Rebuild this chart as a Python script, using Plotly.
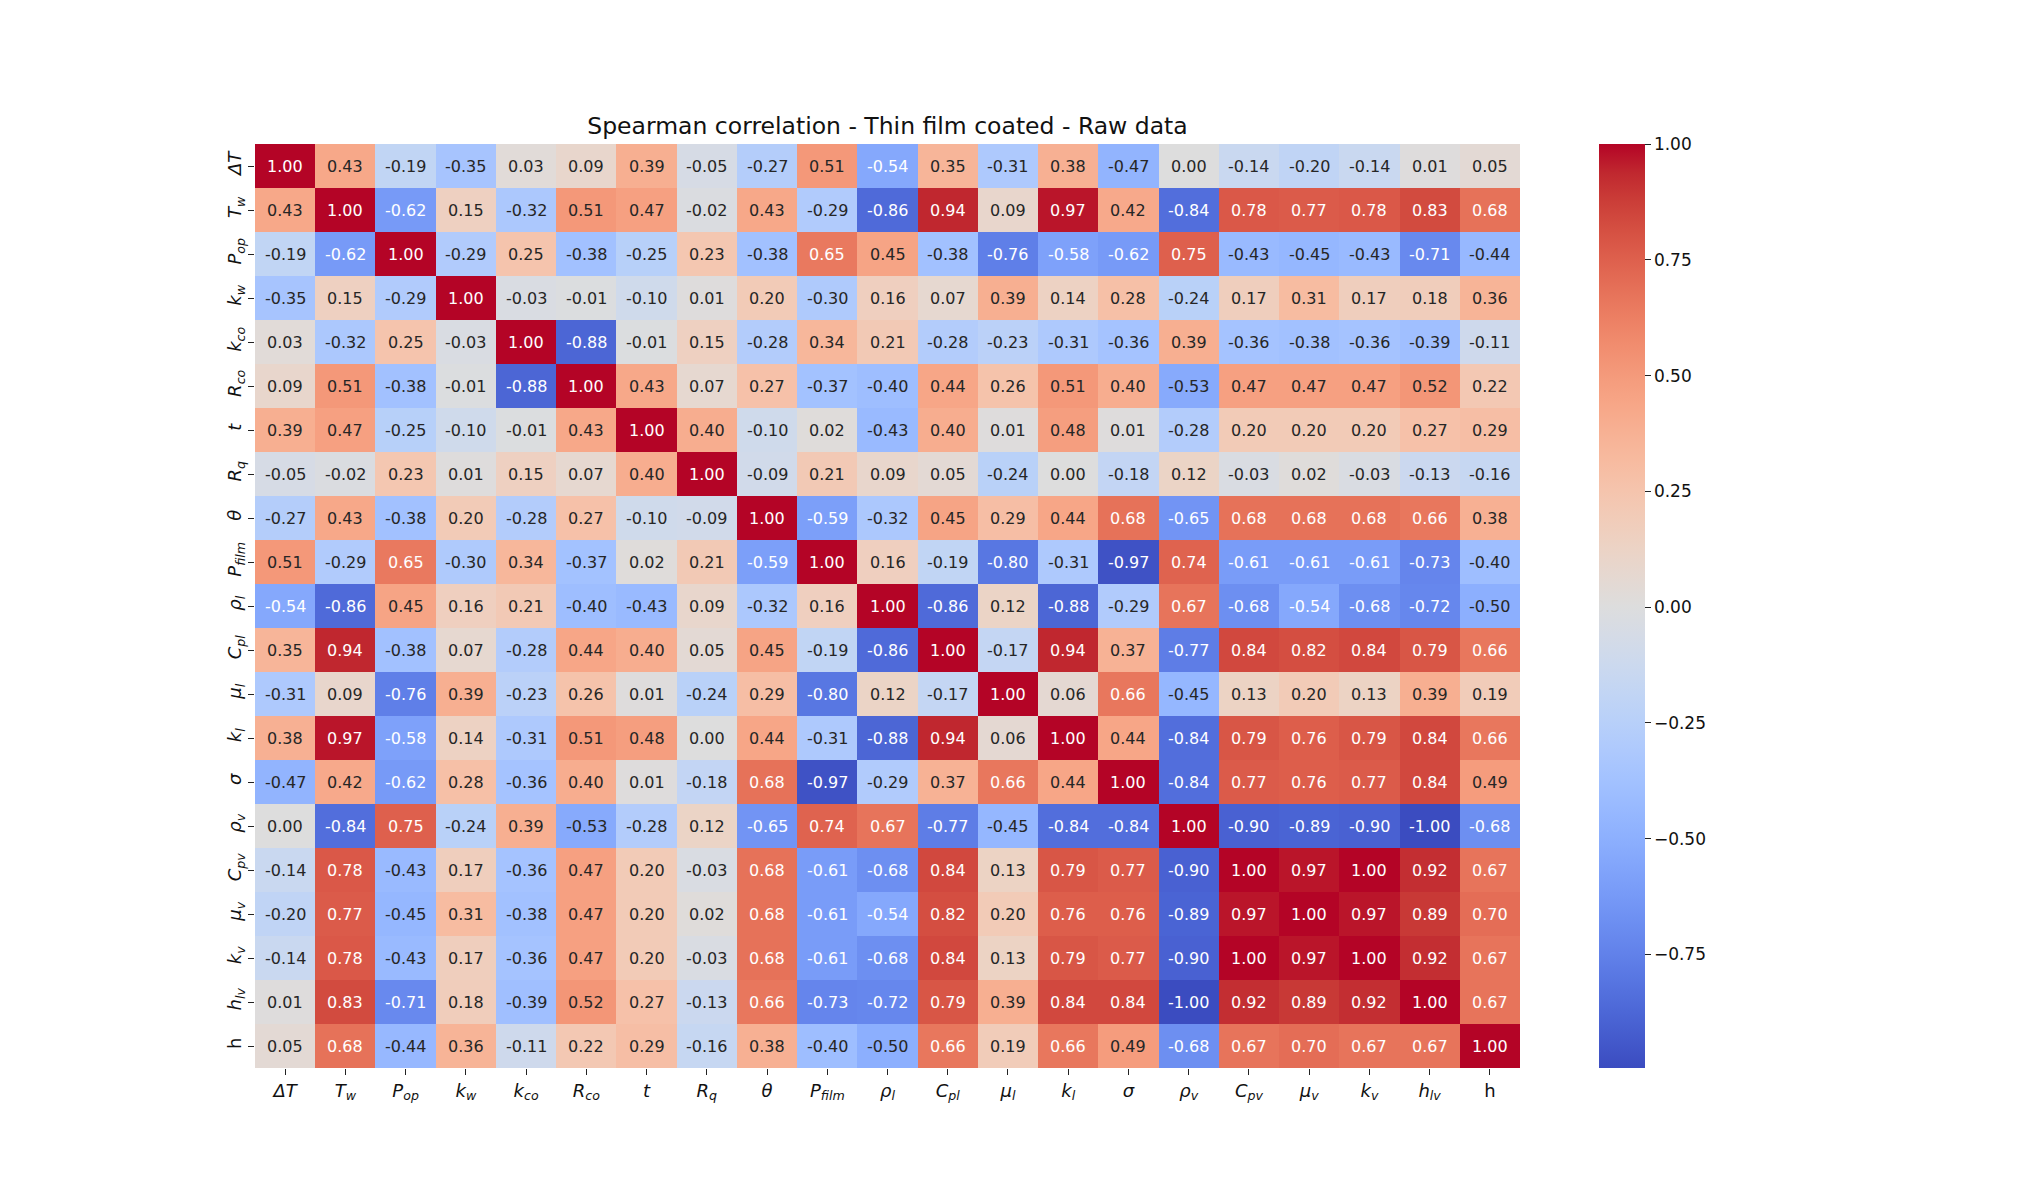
import plotly.graph_objects as go

labels = ["<i>ΔT</i>", "<i>T<sub>w</sub></i>", "<i>P<sub>op</sub></i>", "<i>k<sub>w</sub></i>",
          "<i>k<sub>co</sub></i>", "<i>R<sub>co</sub></i>", "<i>t</i>", "<i>R<sub>q</sub></i>",
          "<i>θ</i>", "<i>P<sub>film</sub></i>", "<i>ρ<sub>l</sub></i>", "<i>C<sub>pl</sub></i>",
          "<i>μ<sub>l</sub></i>", "<i>k<sub>l</sub></i>", "<i>σ</i>", "<i>ρ<sub>v</sub></i>",
          "<i>C<sub>pv</sub></i>", "<i>μ<sub>v</sub></i>", "<i>k<sub>v</sub></i>",
          "<i>h<sub>lv</sub></i>", "h"]

# spearman correlation matrix, rows in label order
corr = [
    [1.00, 0.43, -0.19, -0.35, 0.03, 0.09, 0.39, -0.05, -0.27, 0.51, -0.54, 0.35, -0.31, 0.38, -0.47, 0.00, -0.14, -0.20, -0.14, 0.01, 0.05],
    [0.43, 1.00, -0.62, 0.15, -0.32, 0.51, 0.47, -0.02, 0.43, -0.29, -0.86, 0.94, 0.09, 0.97, 0.42, -0.84, 0.78, 0.77, 0.78, 0.83, 0.68],
    [-0.19, -0.62, 1.00, -0.29, 0.25, -0.38, -0.25, 0.23, -0.38, 0.65, 0.45, -0.38, -0.76, -0.58, -0.62, 0.75, -0.43, -0.45, -0.43, -0.71, -0.44],
    [-0.35, 0.15, -0.29, 1.00, -0.03, -0.01, -0.10, 0.01, 0.20, -0.30, 0.16, 0.07, 0.39, 0.14, 0.28, -0.24, 0.17, 0.31, 0.17, 0.18, 0.36],
    [0.03, -0.32, 0.25, -0.03, 1.00, -0.88, -0.01, 0.15, -0.28, 0.34, 0.21, -0.28, -0.23, -0.31, -0.36, 0.39, -0.36, -0.38, -0.36, -0.39, -0.11],
    [0.09, 0.51, -0.38, -0.01, -0.88, 1.00, 0.43, 0.07, 0.27, -0.37, -0.40, 0.44, 0.26, 0.51, 0.40, -0.53, 0.47, 0.47, 0.47, 0.52, 0.22],
    [0.39, 0.47, -0.25, -0.10, -0.01, 0.43, 1.00, 0.40, -0.10, 0.02, -0.43, 0.40, 0.01, 0.48, 0.01, -0.28, 0.20, 0.20, 0.20, 0.27, 0.29],
    [-0.05, -0.02, 0.23, 0.01, 0.15, 0.07, 0.40, 1.00, -0.09, 0.21, 0.09, 0.05, -0.24, 0.00, -0.18, 0.12, -0.03, 0.02, -0.03, -0.13, -0.16],
    [-0.27, 0.43, -0.38, 0.20, -0.28, 0.27, -0.10, -0.09, 1.00, -0.59, -0.32, 0.45, 0.29, 0.44, 0.68, -0.65, 0.68, 0.68, 0.68, 0.66, 0.38],
    [0.51, -0.29, 0.65, -0.30, 0.34, -0.37, 0.02, 0.21, -0.59, 1.00, 0.16, -0.19, -0.80, -0.31, -0.97, 0.74, -0.61, -0.61, -0.61, -0.73, -0.40],
    [-0.54, -0.86, 0.45, 0.16, 0.21, -0.40, -0.43, 0.09, -0.32, 0.16, 1.00, -0.86, 0.12, -0.88, -0.29, 0.67, -0.68, -0.54, -0.68, -0.72, -0.50],
    [0.35, 0.94, -0.38, 0.07, -0.28, 0.44, 0.40, 0.05, 0.45, -0.19, -0.86, 1.00, -0.17, 0.94, 0.37, -0.77, 0.84, 0.82, 0.84, 0.79, 0.66],
    [-0.31, 0.09, -0.76, 0.39, -0.23, 0.26, 0.01, -0.24, 0.29, -0.80, 0.12, -0.17, 1.00, 0.06, 0.66, -0.45, 0.13, 0.20, 0.13, 0.39, 0.19],
    [0.38, 0.97, -0.58, 0.14, -0.31, 0.51, 0.48, 0.00, 0.44, -0.31, -0.88, 0.94, 0.06, 1.00, 0.44, -0.84, 0.79, 0.76, 0.79, 0.84, 0.66],
    [-0.47, 0.42, -0.62, 0.28, -0.36, 0.40, 0.01, -0.18, 0.68, -0.97, -0.29, 0.37, 0.66, 0.44, 1.00, -0.84, 0.77, 0.76, 0.77, 0.84, 0.49],
    [0.00, -0.84, 0.75, -0.24, 0.39, -0.53, -0.28, 0.12, -0.65, 0.74, 0.67, -0.77, -0.45, -0.84, -0.84, 1.00, -0.90, -0.89, -0.90, -1.00, -0.68],
    [-0.14, 0.78, -0.43, 0.17, -0.36, 0.47, 0.20, -0.03, 0.68, -0.61, -0.68, 0.84, 0.13, 0.79, 0.77, -0.90, 1.00, 0.97, 1.00, 0.92, 0.67],
    [-0.20, 0.77, -0.45, 0.31, -0.38, 0.47, 0.20, 0.02, 0.68, -0.61, -0.54, 0.82, 0.20, 0.76, 0.76, -0.89, 0.97, 1.00, 0.97, 0.89, 0.70],
    [-0.14, 0.78, -0.43, 0.17, -0.36, 0.47, 0.20, -0.03, 0.68, -0.61, -0.68, 0.84, 0.13, 0.79, 0.77, -0.90, 1.00, 0.97, 1.00, 0.92, 0.67],
    [0.01, 0.83, -0.71, 0.18, -0.39, 0.52, 0.27, -0.13, 0.66, -0.73, -0.72, 0.79, 0.39, 0.84, 0.84, -1.00, 0.92, 0.89, 0.92, 1.00, 0.67],
    [0.05, 0.68, -0.44, 0.36, -0.11, 0.22, 0.29, -0.16, 0.38, -0.40, -0.50, 0.66, 0.19, 0.66, 0.49, -0.68, 0.67, 0.70, 0.67, 0.67, 1.00],
]

# matplotlib coolwarm
cw = [(59, 76, 192), (68, 90, 204), (77, 104, 215), (87, 117, 225), (98, 130, 234), (108, 142, 241),
      (119, 154, 247), (130, 165, 251), (141, 176, 254), (152, 185, 255), (163, 194, 255), (174, 201, 253),
      (184, 208, 249), (194, 213, 244), (204, 217, 238), (213, 219, 230), (221, 221, 221), (229, 216, 209),
      (236, 211, 197), (241, 204, 185), (245, 196, 173), (247, 187, 160), (247, 177, 148), (247, 166, 135),
      (244, 154, 123), (241, 141, 111), (236, 127, 99), (229, 112, 88), (222, 96, 77), (213, 80, 66),
      (203, 62, 56), (192, 40, 47), (180, 4, 38)]
colorscale = [[i / (len(cw) - 1), "rgb(%d,%d,%d)" % c] for i, c in enumerate(cw)]
zmin, zmax = -0.995, 1.0


def cmap(v):
    f = (v - zmin) / (zmax - zmin)
    f = min(max(f, 0), 1) * (len(cw) - 1)
    i = min(int(f), len(cw) - 2)
    t = f - i
    return [cw[i][k] + (cw[i + 1][k] - cw[i][k]) * t for k in range(3)]


def lum(rgb):
    out = []
    for c in rgb:
        c = c / 255
        out.append(c / 12.92 if c <= 0.03928 else ((c + 0.055) / 1.055) ** 2.4)
    return 0.2126 * out[0] + 0.7152 * out[1] + 0.0722 * out[2]


fig = go.Figure()
fig.add_trace(go.Heatmap(
    z=corr, x=labels, y=labels, colorscale=colorscale, zmin=zmin, zmax=zmax,
    xgap=0, ygap=0, hoverinfo="skip",
    colorbar=dict(x=1.0625, xanchor="left", y=0, yanchor="bottom", len=1, lenmode="fraction",
                  ypad=0, xpad=0, thickness=46, outlinewidth=0, ticks="outside", ticklen=6,
                  tickwidth=1.3, tickcolor="#222",
                  tickvals=[-0.75, -0.5, -0.25, 0, 0.25, 0.5, 0.75, 1.0],
                  tickformat=".2f", tickfont=dict(family="DejaVu Sans", size=17, color="#111")),
))

# cell values as annotations, white text on dark cells like seaborn
annots = []
for r, row in enumerate(corr):
    for c, v in enumerate(row):
        col = "white" if lum(cmap(v)) < 0.408 else "#262626"
        annots.append(dict(x=labels[c], y=labels[r], text=f"{v:.2f}", showarrow=False,
                           font=dict(family="DejaVu Sans", size=16, color=col)))

# page body has an 8px margin, so the figure is 16px smaller than the window
fig.update_layout(
    width=2024, height=1184, showlegend=False,
    plot_bgcolor="white", paper_bgcolor="white",
    margin=dict(l=247, r=512, t=136, b=124),
    title=dict(text="Spearman correlation - Thin film coated - Raw data", x=(247 + 1512) / 2 / 2024,
               xanchor="center", y=1 - 118 / 1184, yanchor="middle",
               font=dict(family="DejaVu Sans", size=23.5, color="#111")),
    font=dict(family="DejaVu Sans", color="#111"),
    annotations=annots,
)
fig.update_xaxes(type="category", range=[-0.5, len(labels) - 0.5], ticks="outside", ticklen=6,
                 tickwidth=1.3, tickcolor="#222", tickfont=dict(size=18), showgrid=False,
                 zeroline=False, showline=False)
fig.update_yaxes(type="category", range=[len(labels) - 0.5, -0.5], ticks="outside", ticklen=6,
                 tickwidth=1.3, tickcolor="#222", tickangle=-90, tickfont=dict(size=18),
                 showgrid=False, zeroline=False, showline=False)

fig.write_html("out.html")
